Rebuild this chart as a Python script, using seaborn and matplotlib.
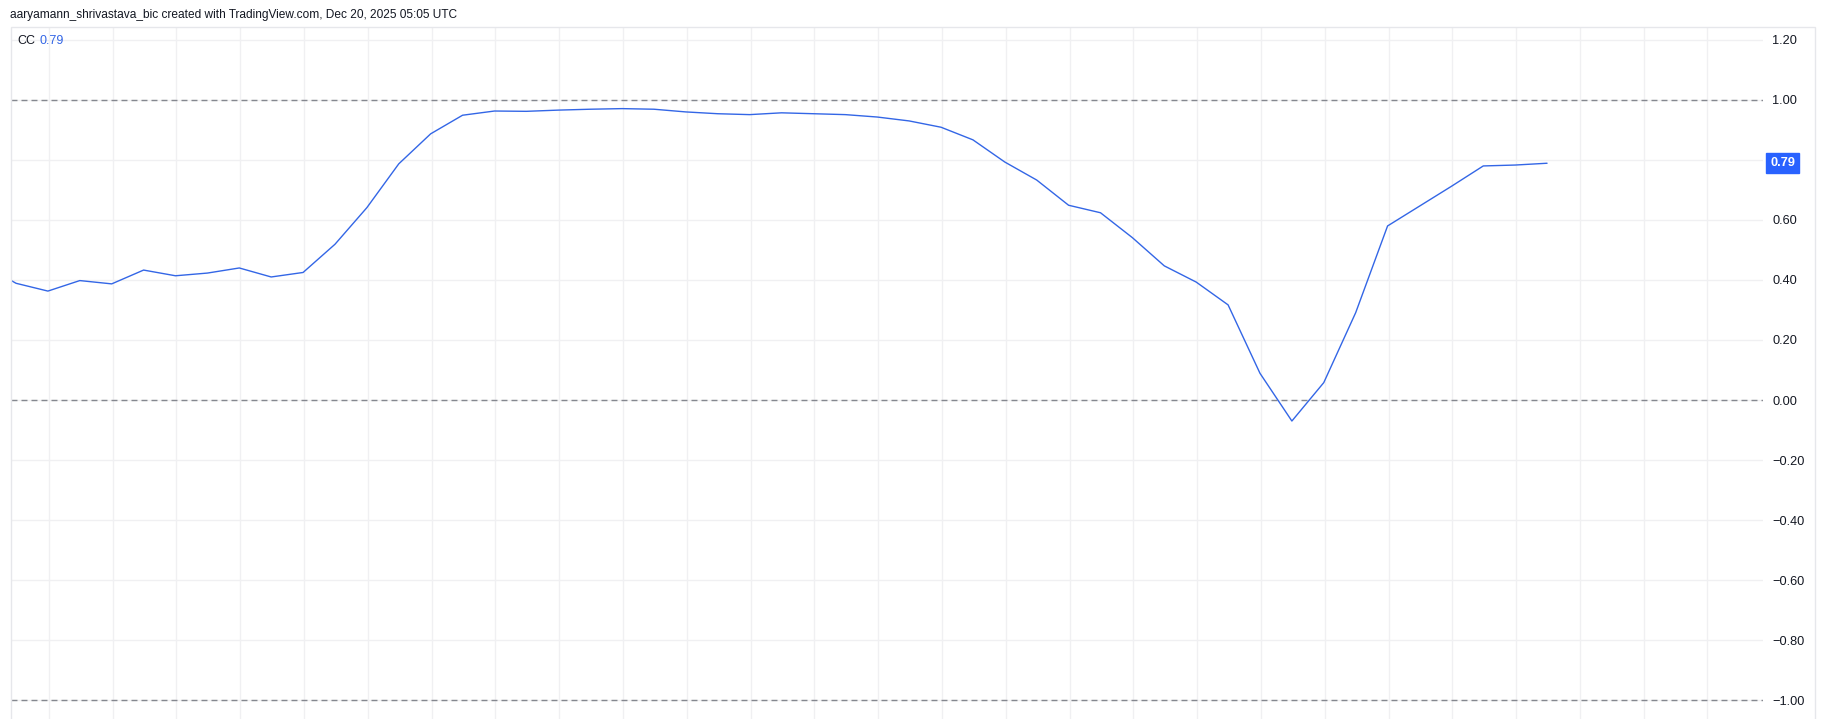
import matplotlib.pyplot as plt
import matplotlib.patches as patches
import numpy as np
import pandas as pd
import seaborn as sns

# CC (correlation coefficient) readings, one per bar
bar_index = list(range(-1, 49))
cc_values = [0.45, 0.389, 0.363, 0.398, 0.387, 0.433, 0.414, 0.423, 0.440, 0.410,
             0.425, 0.519, 0.641, 0.787, 0.887, 0.949, 0.963, 0.962, 0.966, 0.969,
             0.971, 0.969, 0.960, 0.954, 0.951, 0.957, 0.954, 0.951, 0.943, 0.930,
             0.909, 0.867, 0.793, 0.733, 0.649, 0.624, 0.541, 0.447, 0.393, 0.317,
             0.089, -0.070, 0.058, 0.291, 0.580, 0.646, 0.712, 0.780, 0.783, 0.789]
ref_levels = [1.0, 0.0, -1.0]
y_ticks = [1.2, 1.0, 0.8, 0.6, 0.4, 0.2, 0.0, -0.2, -0.4, -0.6, -0.8, -1.0]

W, H = 1825, 719
line_color = "#3366E6"
badge_color = "#2962FF"
grid_color = "#F0F0F2"
text_color = "#131722"

sns.set_style("white")
plt.rcParams['font.family'] = ['Liberation Sans', 'DejaVu Sans']

df = pd.DataFrame({"bar": bar_index, "cc": cc_values})

fig = plt.figure(figsize=(W / 100, H / 100), dpi=100)
ax = fig.add_axes([11 / W, 0, (1763 - 11) / W, (H - 27) / H])

for x in np.arange(1.03, 56, 2):
    ax.axvline(x, color=grid_color, lw=1, zorder=0)
for y in y_ticks:
    ax.axhline(y, color=grid_color, lw=1, zorder=0)
for y in ref_levels:
    ax.axhline(y, color="#85888f", lw=1, ls=(0, (4.3, 2.9)), zorder=1)

sns.lineplot(data=df, x="bar", y="cc", color=line_color, lw=1.0, ax=ax, zorder=3)

last = cc_values[-1]
ax.set_xlim(-0.157, 54.77)
ax.set_ylim(-1.063, 1.243)
ax.set_xlabel("")
ax.set_ylabel("")
ax.set_xticks([])
ax.yaxis.tick_right()
ax.set_yticks(y_ticks)
# the 0.80 label is hidden behind the last-value badge
ax.set_yticklabels(["" if abs(v - last) < 0.05 else f"{v:.2f}".replace("-", "\u2212") for v in y_ticks])
ax.tick_params(axis="y", length=0, pad=6.5, labelsize=9.2, labelcolor=text_color)
for s in ax.spines.values():
    s.set_visible(False)

# last value badge on the price scale
ax.annotate(f"{last:.2f}", xy=(1.0, last), xycoords=("axes fraction", "data"),
            xytext=(19.5, 0), textcoords="offset pixels", ha="center", va="center",
            fontsize=9.2, fontweight="bold", color="white",
            bbox=dict(boxstyle="square,pad=0.3", fc=badge_color, ec=badge_color))

# chart frame
fig.add_artist(patches.Rectangle((11 / W, -0.01), (1815 - 11) / W, (H - 27) / H + 0.01,
                                 transform=fig.transFigure, fill=False,
                                 ec="#E6E7EB", lw=1))

fig.text(10 / W, 1 - 15 / H, "aaryamann_shrivastava_bic created with TradingView.com, Dec 20, 2025 05:05 UTC",
         fontsize=8.6, color=text_color, va="center", ha="left")
fig.text(17 / W, 1 - 41 / H, "CC", fontsize=9.0, color=text_color, va="center", ha="left")
fig.text(39 / W, 1 - 41 / H, f"{last:.2f}", fontsize=9.0, color=line_color, va="center", ha="left")

fig.savefig("out.png", dpi=100, facecolor="white")
plt.close(fig)
